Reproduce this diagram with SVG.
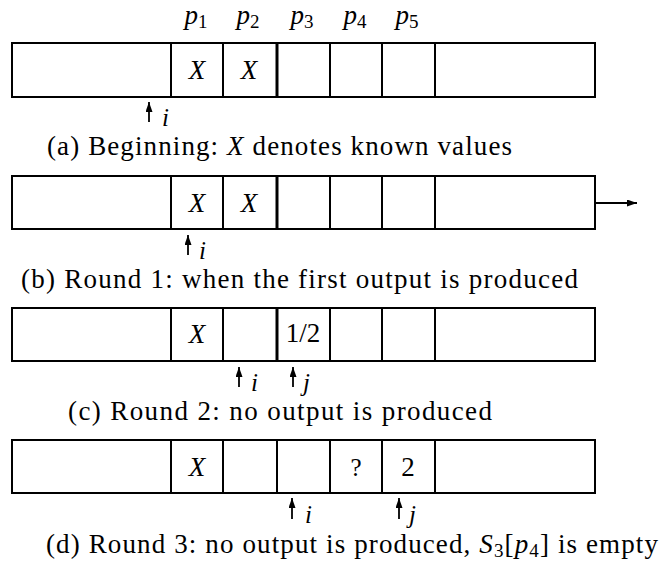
<svg xmlns="http://www.w3.org/2000/svg" width="663" height="563" viewBox="0 0 663 563">
  <style>
    .frame { fill: none; stroke: #000; stroke-width: 2; }
    .div { stroke: #000; stroke-width: 2; }
    .thick { stroke: #000; stroke-width: 3; }
    .arrow { stroke: #000; stroke-width: 1.8; fill: none; marker-end: url(#head); }
    text { font-family: "Liberation Serif", "DejaVu Serif", serif; font-size: 27px; fill: #000; }
    .m { font-style: italic; }
    .ptr { font-style: italic; font-size: 25px; }
    .sub { font-size: 19px; font-style: normal; }
    .c { text-anchor: middle; }
  </style>
  <defs>
    <marker id="head" markerUnits="userSpaceOnUse" markerWidth="10" markerHeight="7" refX="10" refY="3.5" orient="auto">
      <path d="M0,0 L10,3.5 L0,7 z" fill="#000"/>
    </marker>
  </defs>
  <rect width="663" height="563" fill="#fff"/>

  <!-- position labels above the first array -->
  <g id="positions">
    <text class="c" x="196" y="24"><tspan class="m">p</tspan><tspan class="sub" dy="4">1</tspan></text>
    <text class="c" x="248" y="24"><tspan class="m">p</tspan><tspan class="sub" dy="4">2</tspan></text>
    <text class="c" x="302" y="24"><tspan class="m">p</tspan><tspan class="sub" dy="4">3</tspan></text>
    <text class="c" x="355" y="24"><tspan class="m">p</tspan><tspan class="sub" dy="4">4</tspan></text>
    <text class="c" x="407" y="24"><tspan class="m">p</tspan><tspan class="sub" dy="4">5</tspan></text>
  </g>

  <!-- (a) beginning -->
  <g id="row-a">
    <rect class="frame" x="12" y="43" width="583" height="54"/>
    <line class="div" x1="171" y1="43" x2="171" y2="97"/>
    <line class="div" x1="223" y1="43" x2="223" y2="97"/>
    <line class="thick" x1="277" y1="43" x2="277" y2="97"/>
    <line class="div" x1="330" y1="43" x2="330" y2="97"/>
    <line class="div" x1="382" y1="43" x2="382" y2="97"/>
    <line class="div" x1="435" y1="43" x2="435" y2="97"/>
    <text class="c m" x="197" y="79">X</text>
    <text class="c m" x="249" y="79">X</text>
    <text class="ptr" x="162" y="126">i</text>
    <text x="47" y="155" textLength="465">(a) Beginning: <tspan class="m">X</tspan> denotes known values</text>
  </g>

  <!-- (b) round 1 -->
  <g id="row-b">
    <rect class="frame" x="12" y="176" width="583" height="53"/>
    <line class="div" x1="171" y1="176" x2="171" y2="229"/>
    <line class="div" x1="223" y1="176" x2="223" y2="229"/>
    <line class="thick" x1="277" y1="176" x2="277" y2="229"/>
    <line class="div" x1="330" y1="176" x2="330" y2="229"/>
    <line class="div" x1="382" y1="176" x2="382" y2="229"/>
    <line class="div" x1="435" y1="176" x2="435" y2="229"/>
    <text class="c m" x="197" y="212">X</text>
    <text class="c m" x="249" y="212">X</text>
    <text class="ptr" x="199" y="259">i</text>
    <text x="21" y="288" textLength="557">(b) Round 1: when the first output is produced</text>
  </g>

  <!-- (c) round 2 -->
  <g id="row-c">
    <rect class="frame" x="12" y="308" width="583" height="53"/>
    <line class="div" x1="171" y1="308" x2="171" y2="361"/>
    <line class="div" x1="223" y1="308" x2="223" y2="361"/>
    <line class="thick" x1="277" y1="308" x2="277" y2="361"/>
    <line class="div" x1="330" y1="308" x2="330" y2="361"/>
    <line class="div" x1="382" y1="308" x2="382" y2="361"/>
    <line class="div" x1="435" y1="308" x2="435" y2="361"/>
    <text class="c m" x="197" y="343">X</text>
    <text class="c" x="303" y="342">1/2</text>
    <text class="ptr" x="251" y="391">i</text>
    <text class="ptr" x="303" y="391">j</text>
    <text x="68" y="420" textLength="424">(c) Round 2: no output is produced</text>
  </g>

  <!-- (d) round 3 -->
  <g id="row-d">
    <rect class="frame" x="12" y="440" width="583" height="53"/>
    <line class="div" x1="171" y1="440" x2="171" y2="493"/>
    <line class="div" x1="223" y1="440" x2="223" y2="493"/>
    <line class="div" x1="277" y1="440" x2="277" y2="493"/>
    <line class="div" x1="330" y1="440" x2="330" y2="493"/>
    <line class="div" x1="382" y1="440" x2="382" y2="493"/>
    <line class="div" x1="435" y1="440" x2="435" y2="493"/>
    <text class="c m" x="197" y="476">X</text>
    <text class="c" x="356" y="476" style="font-size:25px">?</text>
    <text class="c" x="408" y="476">2</text>
    <text class="ptr" x="305" y="523">i</text>
    <text class="ptr" x="409" y="523">j</text>
    <text x="46" y="553" textLength="612">(d) Round 3: no output is produced, <tspan class="m">S</tspan><tspan class="sub" dy="4">3</tspan><tspan dy="-4">[</tspan><tspan class="m">p</tspan><tspan class="sub" dy="4">4</tspan><tspan dy="-4">]</tspan> is empty</text>
  </g>

  <!-- pointer arrows and the output arrow -->
  <g id="connectors">
    <line class="arrow" x1="149" y1="122" x2="149" y2="102"/>
    <line class="arrow" x1="188" y1="255" x2="188" y2="235"/>
    <line class="arrow" x1="239" y1="387" x2="239" y2="367"/>
    <line class="arrow" x1="293" y1="387" x2="293" y2="367"/>
    <line class="arrow" x1="292" y1="519" x2="292" y2="498"/>
    <line class="arrow" x1="399" y1="519" x2="399" y2="498"/>
    <line class="arrow" x1="595" y1="203" x2="637" y2="203"/>
  </g>
</svg>
